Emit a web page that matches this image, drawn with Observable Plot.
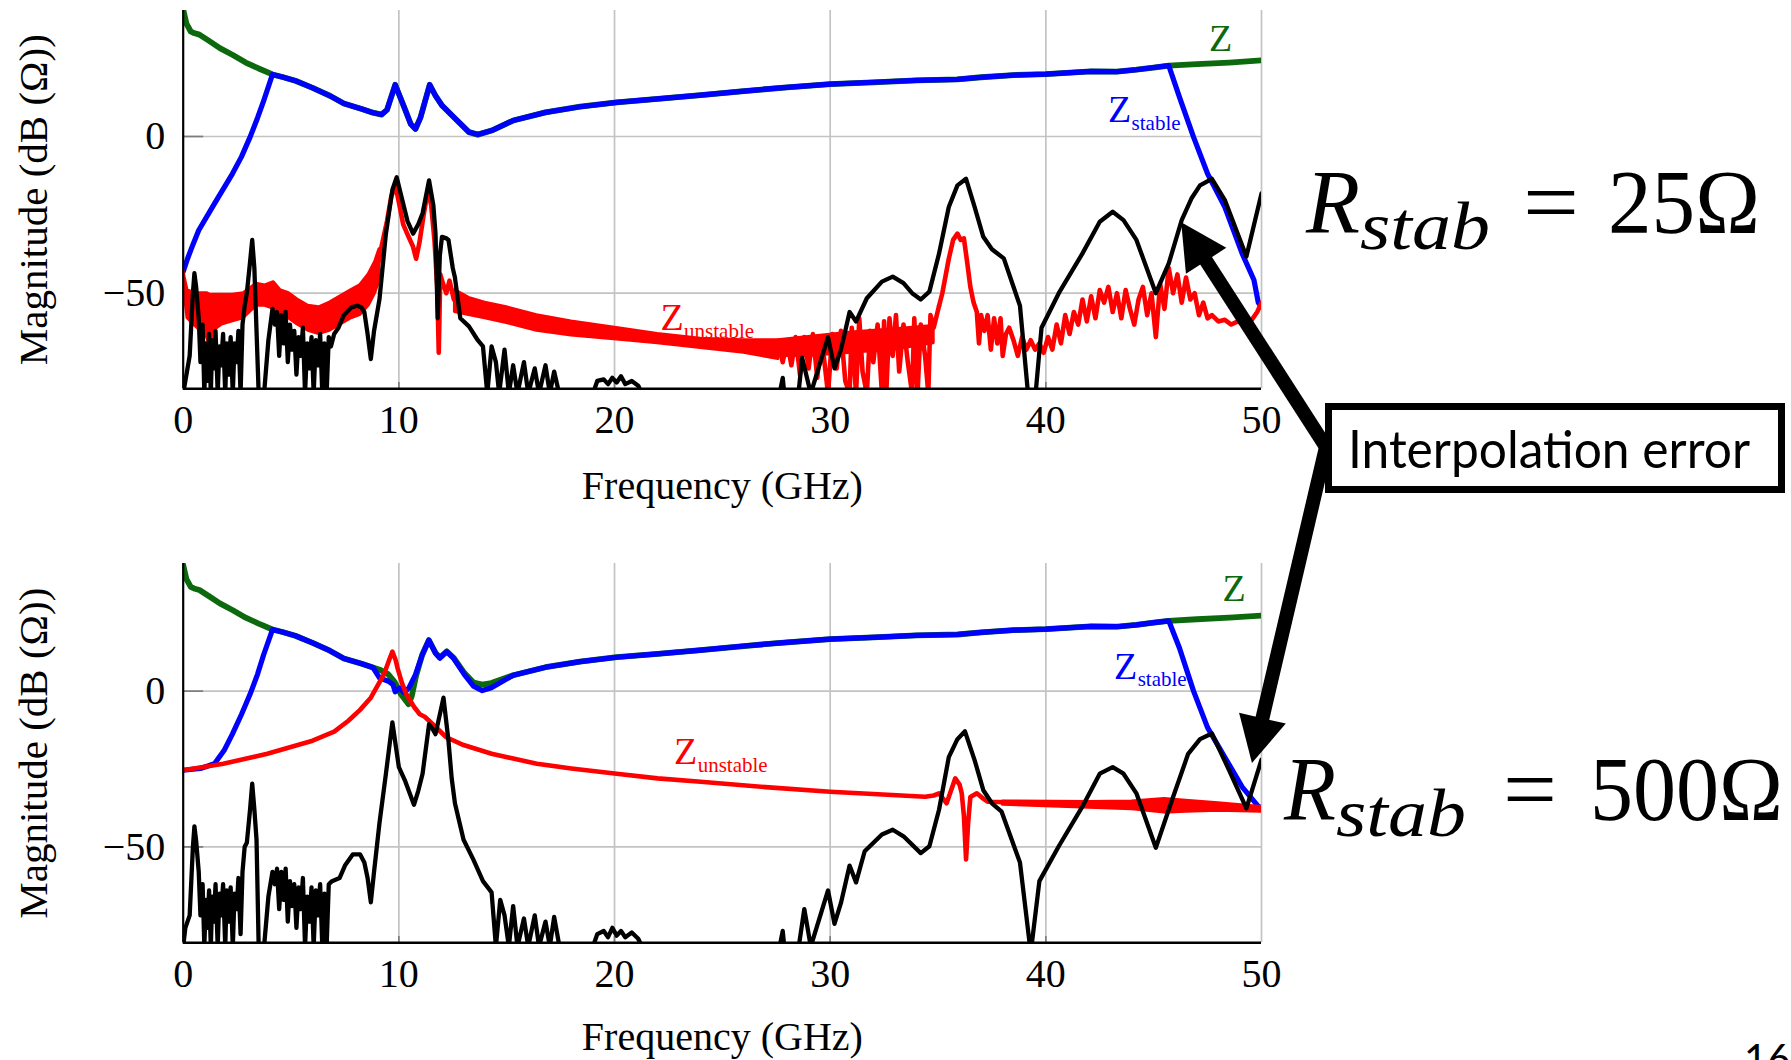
<!DOCTYPE html>
<html><head><meta charset="utf-8">
<script src="https://cdn.jsdelivr.net/npm/d3@7"></script>
<script src="https://cdn.jsdelivr.net/npm/@observablehq/plot@0.6"></script>
<style>
html,body{margin:0;padding:0;background:#fff;}
#page{position:relative;width:1791px;height:1060px;overflow:hidden;background:#fff;}
#top,#bot{position:absolute;left:0;}
#top{top:0px}
#bot{top:553px}
#ann{position:absolute;left:0;top:0;pointer-events:none}
</style></head>
<body><div id="page"><div id="top"></div><div id="bot"></div><svg id="ann" width="1791" height="1060"></svg></div>
<script>
// ---------- axes ----------
const freqTicks = [0, 10, 20, 30, 40, 50];
const magTicks = [-50, 0];
const xTitle = "Frequency (GHz)";
const yTitle = "Magnitude (dB (Ω))";

// ---------- Z (green), top chart; shared by bottom outside resonance ----------
const zMag = [[0,40.5],[0.15,36],[0.35,33.5],[0.5,33],[0.75,32.5],[1.2,30.5],[1.7,28.2],[2.3,26],[2.9,23.6],[3.5,21.7],[4.14,19.8],[4.6,19],[5.2,17.8],[6.0,15.5],[6.8,13],[7.45,10.5],[8.28,8.8],[8.8,7.6],[9.2,7.0],[9.45,8.5],[9.83,16.5],[10.25,9.3],[10.55,4],[10.77,2.4],[11.0,6],[11.43,16.5],[11.7,13],[12.0,9.9],[12.63,5.6],[13.25,1.4],[13.66,0.6],[14.3,1.9],[15.3,5.1],[16.8,7.7],[18.4,9.5],[20.1,10.9],[22,12],[24,13.2],[26,14.5],[28,15.7],[30,16.7],[32,17.3],[34,17.9],[35.9,18.2],[37,18.9],[38.5,19.6],[40,19.9],[42.1,20.8],[43.3,20.7],[44.2,21.3],[45,22],[45.7,22.6],[47,23.1],[48.5,23.6],[50,24.3]];
const zBotResonance = [[9.11,6.9],[9.5,5.5],[9.8,3],[10.1,-1],[10.45,-4.2],[10.6,-1.5],[10.8,5],[11.08,11.6],[11.39,16.4],[11.7,12.3],[11.9,10.8],[12.22,12.8],[12.53,10.8],[13.04,5.8],[13.46,2.8],[13.87,2.1],[14.29,2.6]];

// ---------- Z_stable (blue) ----------
const stableRiseTop = [[0,-43.1],[0.2,-39],[0.41,-35.2],[0.72,-29.9],[1.45,-21.4],[2.28,-11.9],[2.7,-6.5],[3.1,-0.2],[3.45,6],[3.73,11.4]];
const stableFallTop = [[46.2,12.5],[46.85,-0.2],[47.5,-11.9],[48.3,-22.5],[49.1,-37.3],[49.65,-45.8],[49.85,-53],[50,-54.5]];
const stableRiseBot = [[0,-25.4],[0.8,-24.8],[1.45,-23.3],[1.9,-19],[2.28,-13.8],[2.7,-7.5],[3.1,-1],[3.45,5.5],[3.73,11.7]];
const stableMidBot = [[9.11,4.2],[9.52,3.2],[9.73,2.1],[9.83,-0.2],[10.04,1],[10.25,-0.5],[10.46,1],[10.77,5.3],[11.08,11.6],[11.39,16.4],[11.7,12.2],[11.9,10.6],[12.22,12.7],[12.53,10.6],[13.04,5.3],[13.46,1.6],[13.87,0.2],[14.29,1.1]];
const stableFallBot = [[46.2,13.8],[46.85,0],[47.5,-11.7],[48.3,-21.2],[49.1,-30.7],[49.85,-37],[50,-37.5]];

// ---------- Z_unstable (red), top chart: [f, low, high] bands and [f, dB] lines ----------
const unstableBandTopA = [[0,-43.5,-42.5],[0.1,-52,-46],[0.2,-58,-49],[0.5,-60,-50],[0.8,-62,-50],[1.1,-64,-50],[1.25,-67,-50.5],[1.4,-62,-50.5],[1.8,-60,-50.5],[2.3,-59,-50.5],[2.8,-58,-50],[3.1,-56,-48.5],[3.4,-54,-47],[3.8,-54,-47.5],[4.2,-55,-46.5],[4.5,-57,-49],[4.9,-58,-50],[5.3,-60,-52],[5.8,-62,-54],[6.3,-63,-54.5],[6.8,-62,-53],[7.3,-60,-51],[7.8,-58,-49],[8.2,-57,-47.5],[8.6,-54,-44],[8.9,-50,-40],[9.1,-46,-36]];
const unstablePeakTop = [[9.0,-42],[9.2,-35],[9.45,-27],[9.65,-19],[9.85,-16],[10.0,-21],[10.2,-28],[10.45,-32],[10.65,-35],[10.8,-39],[10.95,-34],[11.15,-25],[11.35,-17],[11.5,-22],[11.65,-33],[11.78,-48],[11.85,-69],[11.92,-44],[12.05,-47],[12.2,-50],[12.35,-46],[12.55,-52],[12.7,-50]];
const unstableBandTopB = [[12.6,-56,-49],[13.25,-57,-51.5],[14,-58,-53],[15,-59.5,-54.5],[16.4,-62,-57],[18,-63.5,-59],[20.5,-65,-61.5],[22,-66,-63],[24,-67.5,-64.5],[26,-69,-65],[27.6,-71,-65]];
const unstableBandTopC = [[27.6,-70,-65],[29,-70,-64],[31,-69,-62.5],[33,-68,-61.5],[34.8,-66,-60.5]];
const unstableSpikesTop = [[27.6,-66],[27.8,-72],[28.0,-65],[28.2,-73],[28.4,-64],[28.6,-76],[28.8,-64],[29.0,-74],[29.2,-63],[29.4,-77],[29.6,-64],[29.9,-82],[30.1,-63],[30.3,-74],[30.5,-62],[30.7,-78],[30.9,-82],[31.0,-61],[31.2,-82],[31.35,-58],[31.5,-75],[31.7,-82],[31.85,-62],[32.0,-72],[32.2,-60],[32.4,-82],[32.5,-59],[32.6,-82],[32.75,-58],[32.9,-70],[33.05,-57],[33.2,-75],[33.4,-60],[33.6,-72],[33.8,-82],[33.9,-58],[34.05,-82],[34.2,-60],[34.4,-70],[34.55,-82],[34.65,-57],[34.8,-61],[35.05,-54]];
const unstableTailTop = [[35.05,-54],[35.2,-50],[35.5,-39],[35.7,-33],[35.9,-31],[36.05,-33],[36.2,-32.5],[36.35,-40],[36.5,-48],[36.65,-53],[36.8,-56],[36.9,-66],[37.0,-57],[37.15,-62],[37.3,-57],[37.45,-68],[37.6,-58],[37.75,-66],[37.9,-58],[38.0,-70],[38.15,-63],[38.3,-61],[38.5,-65],[38.7,-70],[38.9,-64],[39.1,-68],[39.3,-65],[39.5,-68],[39.7,-66],[39.9,-69],[40.1,-64],[40.3,-68],[40.5,-60],[40.7,-66],[40.9,-57],[41.1,-63],[41.3,-56],[41.5,-60],[41.7,-52],[41.9,-59],[42.1,-51],[42.3,-58],[42.5,-49],[42.7,-53],[42.9,-48],[43.1,-56],[43.3,-50],[43.5,-58],[43.7,-49],[43.9,-55],[44.1,-60],[44.3,-52],[44.5,-48],[44.7,-57],[44.9,-50],[45.1,-64],[45.3,-47],[45.5,-55],[45.7,-42],[45.9,-50],[46.1,-44],[46.3,-53],[46.5,-45],[46.7,-52],[46.9,-50],[47.1,-57],[47.3,-53],[47.5,-58],[47.7,-57],[48.0,-59],[48.3,-58.5],[48.6,-60],[48.9,-59],[49.2,-60],[49.5,-59],[49.8,-56],[50,-53]];

// ---------- Z_unstable (red), bottom chart ----------
const unstableBot = [[0,-25.4],[1.86,-23.3],[3.9,-20.1],[6.0,-15.9],[7.0,-13],[7.66,-9.5],[8.2,-6],[8.7,-2.1],[9.3,5.3],[9.55,10],[9.7,12.7],[9.85,10],[9.94,7.4],[10.15,2.5],[10.35,-1],[10.7,-5],[10.97,-7.4],[11.2,-8.2],[11.4,-9.5],[12.2,-14.8],[13,-17.3],[14.3,-20.1],[16.4,-23.3],[18,-24.8],[20.1,-26.5],[22,-28],[24,-29.1],[27,-30.8],[30,-32.3],[32,-33],[34.4,-33.9],[34.8,-33.5],[35.05,-32.8],[35.4,-36],[35.6,-32],[35.8,-28],[36.0,-30],[36.1,-32.8],[36.2,-40],[36.3,-54],[36.4,-42],[36.5,-34],[36.8,-32.8],[37.1,-34.5],[37.3,-35.5],[40,-36],[44.2,-36.5],[47,-37],[50,-38]];
const unstableRippleBot = [[38,-36.5,-35.4],[42,-37.4,-35.6],[44,-37.9,-35.4],[45.5,-39,-34.6],[46.5,-38.7,-35.2],[48,-38.4,-36],[50,-38.7,-37.2]];

// ---------- error (black) ----------
const errTop = [[0,-82],[0.3,-70],[0.45,-50],[0.52,-43.6],[0.6,-48],[0.72,-58],[0.8,-72],[0.9,-60],[0.98,-82],[1.05,-66],[1.12,-78],[1.2,-63],[1.28,-82],[1.35,-65],[1.42,-74],[1.5,-62],[1.6,-82],[1.68,-67],[1.75,-73],[1.85,-63],[1.95,-82],[2.02,-66],[2.1,-76],[2.2,-64],[2.3,-82],[2.38,-66],[2.48,-72],[2.56,-62],[2.66,-82],[2.75,-60],[2.85,-54],[2.95,-50],[3.1,-40],[3.2,-33],[3.3,-42],[3.4,-62],[3.5,-82],[3.75,-82],[3.95,-65],[4.14,-55],[4.25,-60],[4.35,-56],[4.45,-70],[4.55,-57],[4.65,-66],[4.75,-56],[4.85,-72],[4.95,-60],[5.05,-68],[5.15,-62],[5.25,-76],[5.35,-64],[5.45,-70],[5.55,-61],[5.65,-82],[5.75,-66],[5.85,-74],[5.95,-64],[6.05,-82],[6.15,-65],[6.25,-73],[6.35,-63],[6.45,-82],[6.55,-66],[6.65,-82],[6.75,-64],[6.85,-67],[7.0,-63],[7.2,-61],[7.45,-57],[7.8,-54.5],[8.07,-54],[8.25,-54.5],[8.4,-56],[8.55,-63],[8.7,-71],[8.85,-62],[9.1,-52],[9.4,-31],[9.7,-17],[9.9,-13],[10.15,-20],[10.4,-27],[10.66,-31],[10.9,-28],[11.1,-24.5],[11.4,-14],[11.6,-22],[11.7,-31],[11.8,-58],[11.9,-38],[12.0,-32],[12.2,-32.5],[12.3,-33],[12.5,-42],[12.6,-45],[12.85,-58],[13.25,-60.6],[13.66,-65],[13.9,-67],[14.1,-82],[14.3,-67],[14.5,-72],[14.65,-82],[14.9,-68],[15.1,-82],[15.3,-73],[15.5,-82],[15.8,-72],[16.0,-82],[16.3,-74],[16.5,-82],[16.8,-73],[17.0,-82],[17.2,-75],[17.5,-84],[19.0,-82],[19.2,-78],[19.5,-77.5],[19.7,-79],[19.9,-77],[20.1,-78.5],[20.3,-76.5],[20.5,-79],[20.8,-78],[21.1,-79.5],[21.4,-84],[27.6,-84],[27.8,-77],[27.9,-84],[28.5,-84],[28.7,-70.6],[29.1,-82],[29.9,-64],[30.2,-74],[30.5,-68],[30.9,-56],[31.2,-59],[31.7,-51.6],[32.4,-46.3],[32.9,-44.7],[33.4,-46.8],[33.8,-50],[34.2,-52],[34.6,-49.5],[35.05,-37.3],[35.5,-22.5],[35.9,-15.6],[36.3,-13.5],[36.7,-22.5],[37.1,-32],[37.5,-36],[38.05,-38.9],[38.8,-54],[39.2,-84],[39.5,-84],[39.8,-61],[40.6,-50],[41.7,-37.3],[42.5,-27.2],[43.1,-24],[43.6,-26.7],[44.2,-33],[45.1,-50],[45.7,-40.5],[46.3,-26.7],[46.75,-19.8],[47.15,-15.6],[47.7,-13.5],[48.3,-20.3],[49.3,-38.3],[50,-18.2]];
const errBot = [[0,-82],[0.1,-76],[0.3,-72],[0.45,-50],[0.52,-43.4],[0.6,-48],[0.72,-58],[0.8,-72],[0.9,-62],[0.98,-82],[1.05,-67],[1.12,-76],[1.2,-64],[1.28,-82],[1.35,-66],[1.42,-74],[1.5,-62],[1.6,-82],[1.68,-65],[1.75,-72],[1.85,-62],[1.95,-82],[2.02,-64],[2.1,-74],[2.2,-63],[2.3,-82],[2.38,-65],[2.48,-70],[2.56,-60],[2.66,-78],[2.75,-58],[2.85,-50],[2.95,-48.7],[3.1,-38],[3.2,-29.7],[3.3,-38],[3.4,-47.7],[3.5,-82],[3.75,-82],[3.95,-66],[4.14,-58],[4.25,-62],[4.35,-57],[4.45,-70],[4.55,-58],[4.65,-67],[4.75,-57],[4.85,-74],[4.95,-61],[5.05,-69],[5.15,-62],[5.25,-76],[5.35,-63],[5.45,-70],[5.55,-60],[5.65,-82],[5.75,-66],[5.85,-74],[5.95,-63],[6.05,-82],[6.15,-64],[6.25,-72],[6.35,-62],[6.45,-82],[6.55,-65],[6.65,-82],[6.75,-62],[6.9,-61],[7.25,-60],[7.5,-56],[7.87,-52.4],[8.2,-52.4],[8.4,-55],[8.55,-60],[8.7,-67.8],[8.85,-58],[9.1,-42.4],[9.4,-26.5],[9.7,-10],[10.0,-24.4],[10.3,-29],[10.7,-36.5],[10.9,-32],[11.1,-26.5],[11.4,-10.6],[11.55,-12],[11.7,-13.8],[12.07,-2.1],[12.3,-15.9],[12.45,-28],[12.6,-36],[13.0,-47.7],[13.45,-54],[13.9,-61],[14.3,-64.6],[14.5,-82],[14.7,-67],[14.9,-72],[15.1,-82],[15.3,-69],[15.5,-82],[15.8,-73],[16.0,-82],[16.3,-72],[16.5,-82],[16.8,-74],[17.0,-82],[17.2,-72.5],[17.5,-84],[19.0,-82],[19.2,-78],[19.5,-77],[19.7,-79],[19.9,-76],[20.1,-78.5],[20.3,-77],[20.5,-79],[20.8,-77.5],[21.1,-79.5],[21.4,-84],[27.6,-84],[27.8,-77],[27.9,-84],[28.5,-84],[28.8,-70],[29.1,-82],[29.9,-64],[30.2,-74.7],[30.5,-68],[30.9,-56],[31.2,-61.4],[31.6,-51.4],[32.4,-46],[32.9,-44.5],[33.4,-46.6],[34.2,-52],[34.6,-49.8],[35.05,-38],[35.5,-21.2],[35.9,-15.4],[36.25,-12.9],[36.7,-22.2],[37.1,-31.8],[37.5,-36],[37.95,-38.7],[38.8,-55],[39.3,-84],[39.7,-61],[40.6,-49.8],[41.7,-37],[42.5,-26.5],[43.1,-24.4],[43.6,-26.5],[44.2,-32.8],[45.1,-50.3],[45.8,-36],[46.6,-20.1],[47.15,-15.4],[47.7,-13.6],[48.5,-25.4],[49.3,-37.6],[50,-22]];

// ---------- inline labels ----------
const GREEN = "#0d690d", BLUE = "#0000ff", RED = "#ff0000";
const labelsTop = [
  {f: 48.1, db: 31.3, main: "Z", sub: "", color: GREEN},
  {f: 43.42, db: 8.4, main: "Z", sub: "stable", color: BLUE},
  {f: 22.67, db: -57.9, main: "Z", sub: "unstable", color: RED}
];
const labelsBot = [
  {f: 48.73, db: 32.9, main: "Z", sub: "", color: GREEN},
  {f: 43.7, db: 7.9, main: "Z", sub: "stable", color: BLUE},
  {f: 23.3, db: -19.6, main: "Z", sub: "unstable", color: RED}
];

// ---------- annotations ----------
const annotationText = "Interpolation error";
const rStabValues = ["25Ω", "500Ω"];
const arrowTargets = [{f: 46.3, db: -27.5}, {f: 49.58, db: -23.2}];
const slideNumber = "16";

// ---------- assemble series ----------
const between = (a, lo, hi) => a.filter(p => p[0] >= lo && p[0] <= hi);
const zTopSeries = zMag;
const zBotSeries = [...zMag.filter(p => p[0] < 9.0), ...zBotResonance, ...zMag.filter(p => p[0] > 14.5)];
const stableTopSeries = [...stableRiseTop, ...between(zMag, 4.1, 45.75), ...stableFallTop];
const stableBotSeries = [...stableRiseBot, ...between(zMag, 4.1, 9.0), ...stableMidBot, ...between(zMag, 15, 45.75), ...stableFallBot];

const X = d => d[0], Y = d => d[1];
const SERIF = "'Liberation Serif', 'DejaVu Serif', serif";

function chart(o) {
  const yMin = o.yDomain[0];
  const line = (data, stroke, w) => Plot.line(data, {x: X, y: Y, stroke, strokeWidth: w, strokeLinejoin: "round", strokeLinecap: "round", clip: true});
  const band = (data, color) => Plot.areaY(data, {x: d => d[0], y1: d => d[1], y2: d => d[2], fill: color, stroke: color, strokeWidth: 3, strokeLinejoin: "round", clip: true});
  const labelMarks = [];
  for (const l of o.labels) {
    labelMarks.push(Plot.text([l], {x: "f", y: "db", text: "main", fill: l.color, fontSize: 38, fontFamily: SERIF}));
    if (l.sub) labelMarks.push(Plot.text([l], {x: "f", y: "db", text: "sub", fill: l.color, fontSize: 21, fontFamily: SERIF, textAnchor: "start", dx: 12, dy: 13}));
  }
  return Plot.plot({
    width: 1300, height: o.height,
    marginLeft: 182.7, marginRight: 39, marginTop: 10, marginBottom: o.marginBottom,
    style: {fontFamily: SERIF, fontSize: "40px", color: "#000", background: "transparent", overflow: "visible"},
    x: {domain: [0, 50], ticks: freqTicks, tickSize: 0, tickPadding: 16, label: null},
    y: {domain: o.yDomain, ticks: magTicks, tickSize: 0, tickPadding: 18, label: null},
    marks: [
      Plot.ruleX(freqTicks.slice(1), {stroke: "#c3c3c3", strokeWidth: 1.7}),
      Plot.ruleY(magTicks, {stroke: "#c3c3c3", strokeWidth: 1.7}),
      Plot.ruleY(magTicks, {x1: 0, x2: 0.95, stroke: "#7d7d7d", strokeWidth: 1.7}),
      Plot.ruleX(freqTicks.slice(1, -1), {y1: yMin, y2: yMin + 2, stroke: "#7d7d7d", strokeWidth: 1.7}),
      line(o.green, GREEN, 5.8),
      line(o.blue, BLUE, 5.2),
      ...o.redBands.map(b => band(b, RED)),
      ...o.redLines.map(l => line(l, RED, 4.6)),
      line(o.black, "#000", 4.3),
      Plot.ruleX([0], {stroke: "#000", strokeWidth: 2.2}),
      Plot.ruleY([yMin], {stroke: "#000", strokeWidth: 2.6}),
      ...labelMarks,
      Plot.text([xTitle], {text: d => d, frameAnchor: "bottom", lineAnchor: "middle", dy: o.titleDy, fontSize: 40, fontFamily: SERIF}),
      Plot.text([yTitle], {text: d => d, frameAnchor: "left", textAnchor: "middle", lineAnchor: "middle", dx: -149, rotate: -90, fontSize: 41, fontFamily: SERIF})
    ]
  });
}

const topPlot = chart({
  yDomain: [-80.5, 40.2], height: 520, marginBottom: 131.7, titleDy: 97,
  green: zTopSeries, blue: stableTopSeries,
  redBands: [unstableBandTopA, unstableBandTopB, unstableBandTopC],
  redLines: [unstablePeakTop, unstableSpikesTop, unstableTailTop],
  black: errTop, labels: labelsTop
});
const botPlot = chart({
  yDomain: [-80.8, 41], height: 507, marginBottom: 117.7, titleDy: 94,
  green: zBotSeries, blue: stableBotSeries,
  redBands: [unstableRippleBot],
  redLines: [unstableBot],
  black: errBot, labels: labelsBot
});
document.getElementById("top").appendChild(topPlot);
document.getElementById("bot").appendChild(botPlot);

// ---------- annotation overlay ----------
function toPage(plot, offsetY, f, db, yDomain, height, marginBottom) {
  const sx = plot.scale("x"), sy = plot.scale("y");
  let px, py;
  if (sx && sx.apply) { px = sx.apply(f); py = sy.apply(db); }
  else {
    px = 182.7 + (f / 50) * (1300 - 182.7 - 39);
    py = 10 + (yDomain[1] - db) / (yDomain[1] - yDomain[0]) * (height - 10 - marginBottom);
  }
  return [px, py + offsetY];
}
const tips = [
  toPage(topPlot, 0, arrowTargets[0].f, arrowTargets[0].db, [-80.5, 40.2], 520, 131.7),
  toPage(botPlot, 553, arrowTargets[1].f, arrowTargets[1].db, [-80.8, 41], 507, 117.7)
];
const ann = d3.select("#ann");
const start = [1326, 447];
for (const t of tips) {
  const dx = t[0] - start[0], dy = t[1] - start[1];
  const len = Math.hypot(dx, dy);
  const ux = dx / len, uy = dy / len, nx = -uy, ny = ux;
  const L = 46, W = 24;
  const bx = t[0] - ux * L, by = t[1] - uy * L;
  ann.append("line").attr("x1", start[0]).attr("y1", start[1]).attr("x2", bx + ux * 4).attr("y2", by + uy * 4)
    .attr("stroke", "#000").attr("stroke-width", 14);
  ann.append("polygon").attr("points", `${t[0]},${t[1]} ${bx + nx * W},${by + ny * W} ${bx - nx * W},${by - ny * W}`).attr("fill", "#000");
}
ann.append("rect").attr("x", 1328.5).attr("y", 406.5).attr("width", 453).attr("height", 83)
  .attr("fill", "#fff").attr("stroke", "#000").attr("stroke-width", 7);
ann.append("text").attr("x", 1348).attr("y", 468).attr("font-family", "Lato, 'Open Sans', sans-serif")
  .attr("font-size", 52).attr("textLength", 402).attr("lengthAdjust", "spacingAndGlyphs").text(annotationText);

function rstab(x0, base, widths, value) {
  const g = ann.append("g").attr("font-family", SERIF).attr("fill", "#000");
  g.append("text").attr("x", x0[0]).attr("y", base).attr("font-size", 90).attr("font-style", "italic")
    .attr("textLength", widths[0]).attr("lengthAdjust", "spacingAndGlyphs").text("R");
  g.append("text").attr("x", x0[1]).attr("y", base + 16).attr("font-size", 68).attr("font-style", "italic")
    .attr("textLength", widths[1]).attr("lengthAdjust", "spacingAndGlyphs").text("stab");
  g.append("text").attr("x", x0[2]).attr("y", base).attr("font-size", 90)
    .attr("textLength", widths[2]).attr("lengthAdjust", "spacingAndGlyphs").text("=");
  g.append("text").attr("x", x0[3]).attr("y", base).attr("font-size", 90)
    .attr("textLength", widths[3]).attr("lengthAdjust", "spacingAndGlyphs").text(value);
}
rstab([1306, 1360, 1523, 1608], 233, [54, 130, 56, 152], rStabValues[0]);
rstab([1284, 1336, 1503, 1590], 820, [52, 130, 54, 193], rStabValues[1]);
ann.append("text").attr("x", 1744).attr("y", 1073).attr("font-family", "Lato, sans-serif").attr("font-size", 40).text(slideNumber);
</script></body></html>
